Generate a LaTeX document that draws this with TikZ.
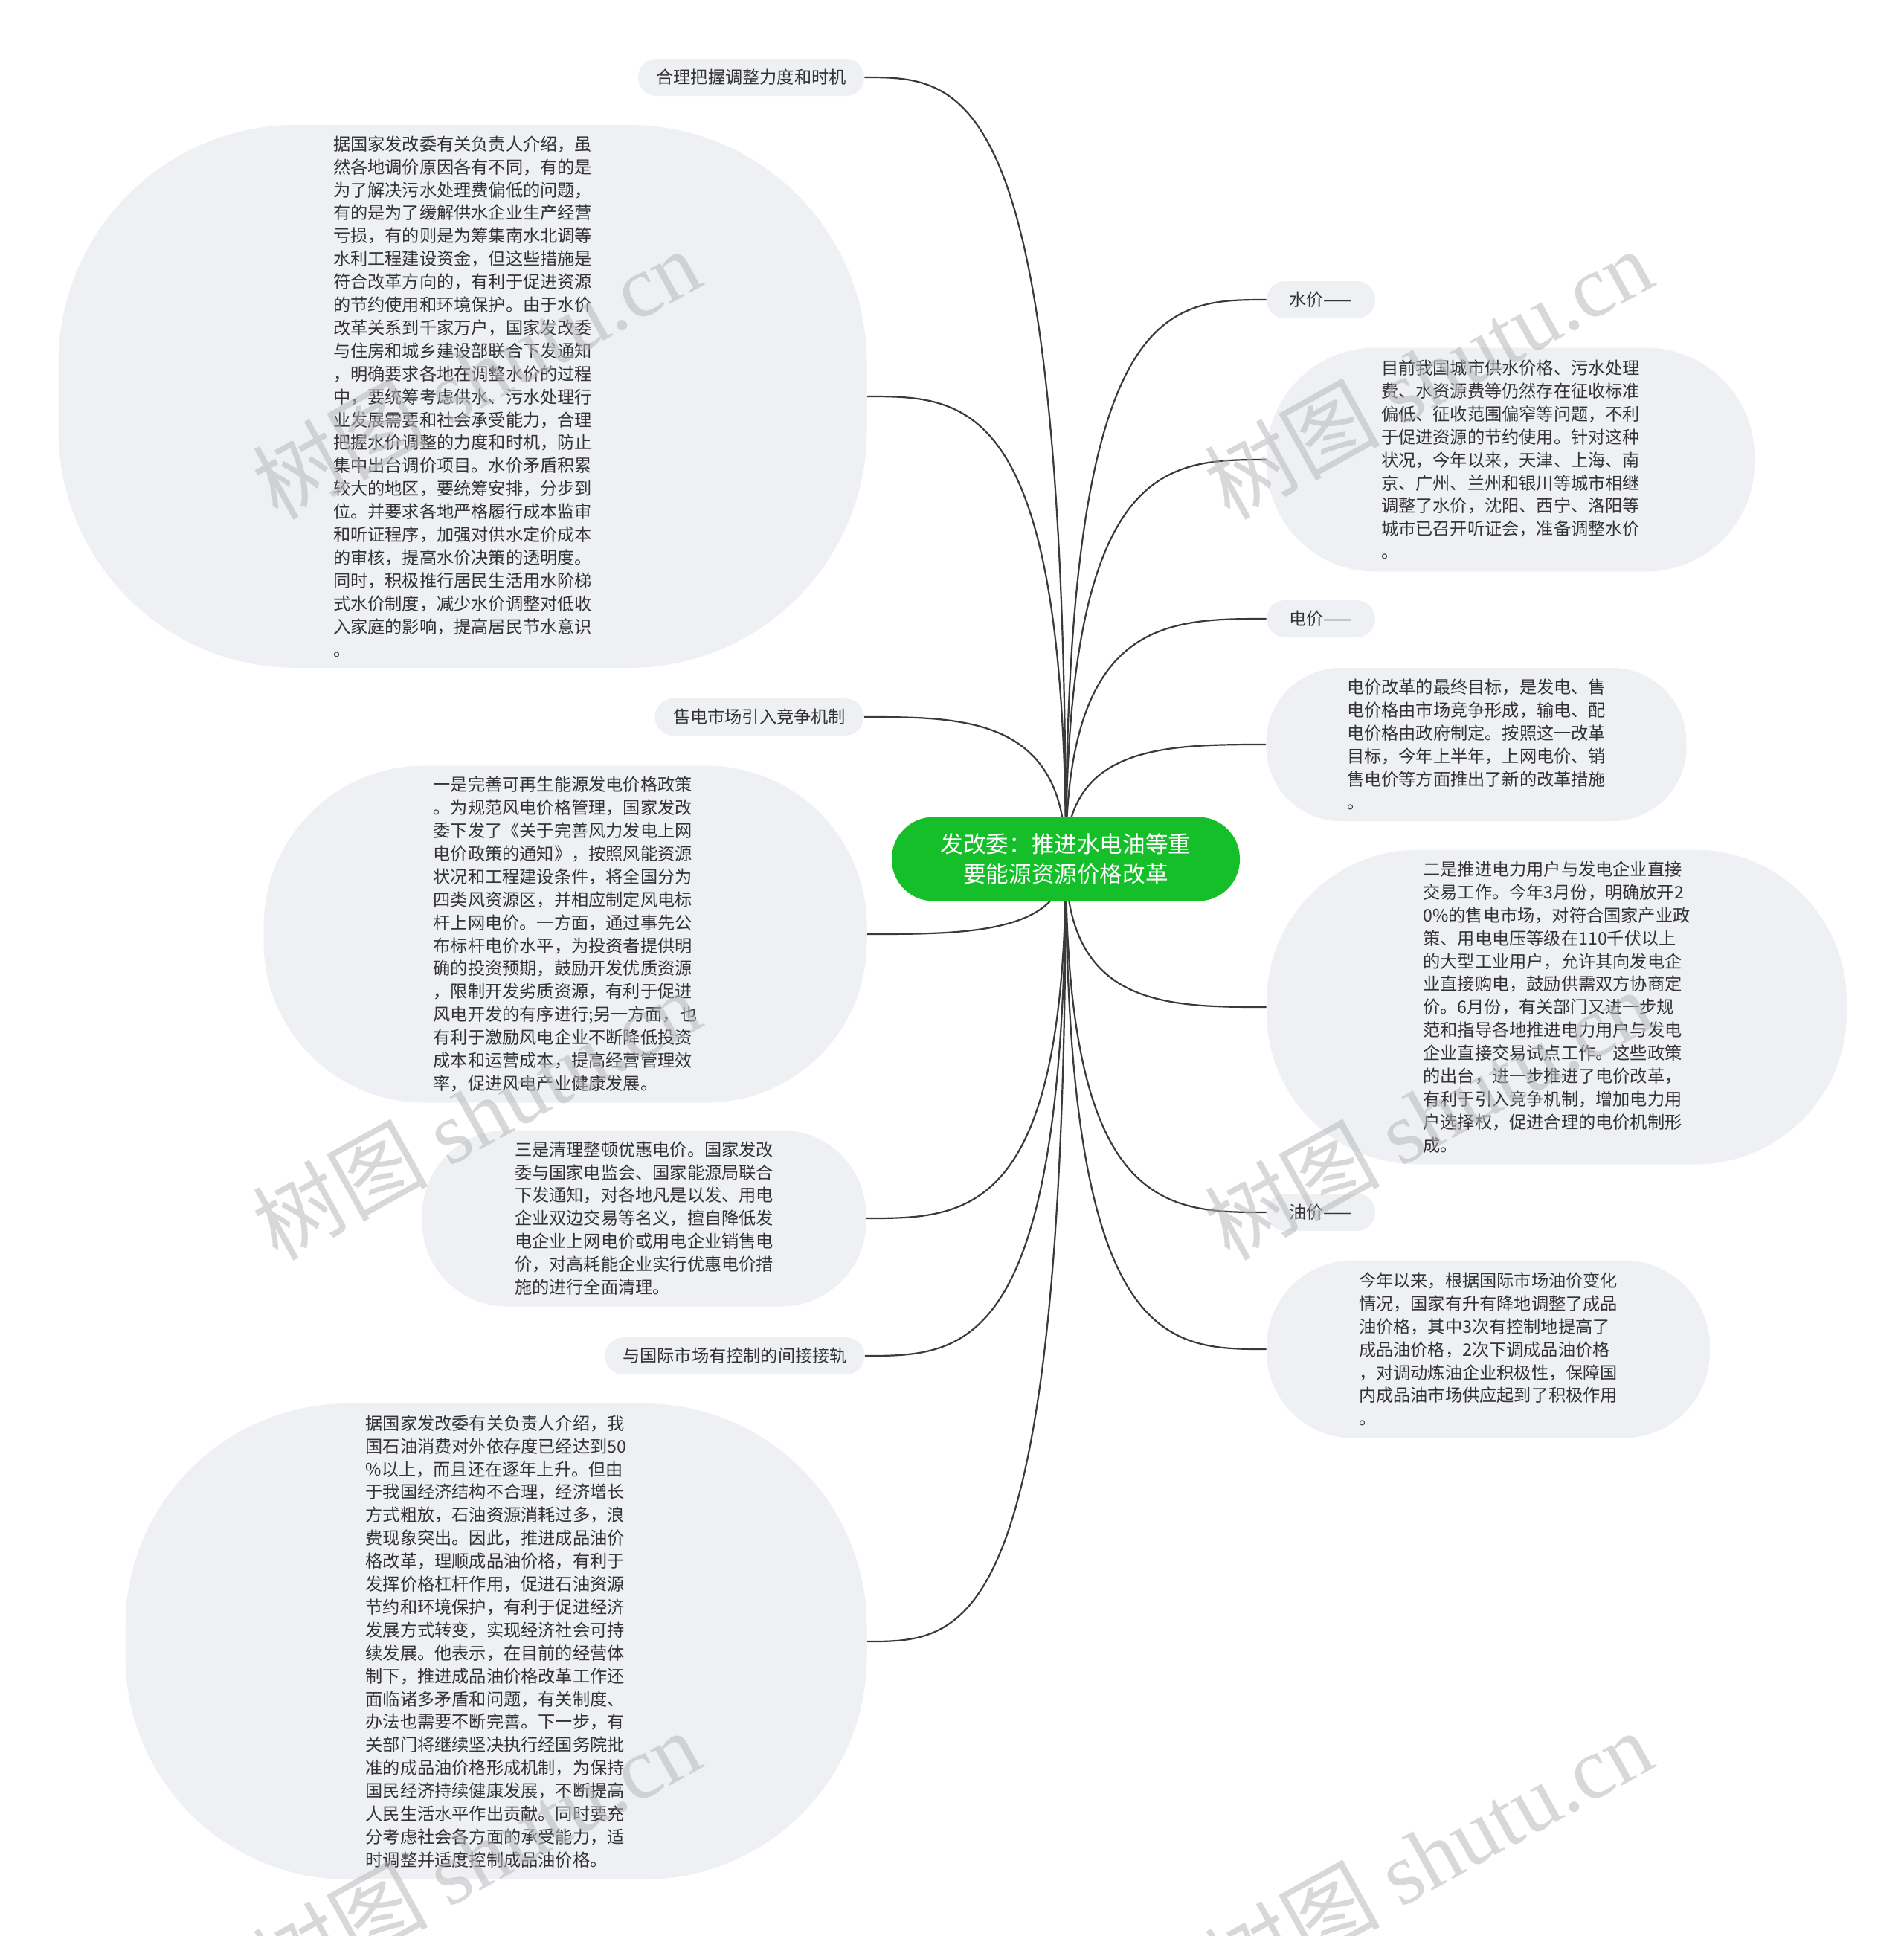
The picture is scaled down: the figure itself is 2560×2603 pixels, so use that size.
\documentclass[tikz,border=0pt]{standalone}
\usepackage{fontspec}
\setmainfont{Noto Sans CJK SC}
\newfontfamily\cjk{Noto Sans CJK SC}
\newfontfamily\wmlat{Liberation Serif}
\usetikzlibrary{calc}
\definecolor{bub}{HTML}{EEF0F3}
\definecolor{txt}{HTML}{333333}
\definecolor{cgreen}{HTML}{15BF2A}
\definecolor{conncol}{HTML}{3A3A3A}
\definecolor{wmcol}{HTML}{B8B8B8}
\pgfdeclarelayer{bglayer}
\pgfdeclarelayer{linelayer}
\pgfsetlayers{bglayer,linelayer,main}
\begin{document}
\begin{tikzpicture}[x=0.5pt,y=-0.5pt,
  bubble/.style={fill=bub, draw=none, inner sep=0pt, align=left, text=txt,
    font=\cjk\fontsize{11.6pt}{15.45pt}\selectfont},
  pill/.style={bubble, align=center, minimum height=25pt, rounded corners=12.5pt},
  conn/.style={draw=conncol, line width=1.1pt},
  wmark/.style={text=wmcol, opacity=0.55, rotate=29, inner sep=0pt,
    font=\cjk\fontsize{59pt}{64pt}\selectfont}]

\useasboundingbox (0,0) rectangle (2560,2603);
\begin{pgfonlayer}{bglayer}
\fill[white] (0,0) rectangle (2560,2603);
\end{pgfonlayer}

% central node
\node[fill=cgreen, draw=none, rounded corners=28pt, minimum width=234pt, minimum height=56.5pt,
  inner sep=0pt, align=center, text=white, font=\cjk\fontsize{15.3pt}{20pt}\selectfont]
  (c) at (1433,1155) {发改委：推进水电油等重\\要能源资源价格改革};

% left side
\node[pill, minimum width=152pt] (a1) at (1010,104) {合理把握调整力度和时机};
\node[bubble, minimum width=543.5pt, minimum height=365pt, rounded corners=160pt] (a2) at (622,533) {据国家发改委有关负责人介绍，虽\\然各地调价原因各有不同，有的是\\为了解决污水处理费偏低的问题，\\有的是为了缓解供水企业生产经营\\亏损，有的则是为筹集南水北调等\\水利工程建设资金，但这些措施是\\符合改革方向的，有利于促进资源\\的节约使用和环境保护。由于水价\\改革关系到千家万户，国家发改委\\与住房和城乡建设部联合下发通知\\，明确要求各地在调整水价的过程\\中，要统筹考虑供水、污水处理行\\业发展需要和社会承受能力，合理\\把握水价调整的力度和时机，防止\\集中出台调价项目。水价矛盾积累\\较大的地区，要统筹安排，分步到\\位。并要求各地严格履行成本监审\\和听证程序，加强对供水定价成本\\的审核，提高水价决策的透明度。\\同时，积极推行居民生活用水阶梯\\式水价制度，减少水价调整对低收\\入家庭的影响，提高居民节水意识\\。};
\node[pill, minimum width=140.5pt] (a3) at (1021,964) {售电市场引入竞争机制};
\node[bubble, minimum width=405.5pt, minimum height=226.5pt, rounded corners=108pt] (a4) at (760,1256) {一是完善可再生能源发电价格政策\\。为规范风电价格管理，国家发改\\委下发了《关于完善风力发电上网\\电价政策的通知》，按照风能资源\\状况和工程建设条件，将全国分为\\四类风资源区，并相应制定风电标\\杆上网电价。一方面，通过事先公\\布标杆电价水平，为投资者提供明\\确的投资预期，鼓励开发优质资源\\，限制开发劣质资源，有利于促进\\风电开发的有序进行;另一方面，也\\有利于激励风电企业不断降低投资\\成本和运营成本，提高经营管理效\\率，促进风电产业健康发展。};
\node[bubble, minimum width=298.5pt, minimum height=118.5pt, rounded corners=57pt] (a5) at (866,1638) {三是清理整顿优惠电价。国家发改\\委与国家电监会、国家能源局联合\\下发通知，对各地凡是以发、用电\\企业双边交易等名义，擅自降低发\\电企业上网电价或用电企业销售电\\价，对高耗能企业实行优惠电价措\\施的进行全面清理。};
\node[pill, minimum width=174.5pt] (a6) at (988,1823) {与国际市场有控制的间接接轨};
\node[bubble, minimum width=498.5pt, minimum height=320pt, rounded corners=150pt] (a7) at (667,2207) {据国家发改委有关负责人介绍，我\\国石油消费对外依存度已经达到50\\\%以上，而且还在逐年上升。但由\\于我国经济结构不合理，经济增长\\方式粗放，石油资源消耗过多，浪\\费现象突出。因此，推进成品油价\\格改革，理顺成品油价格，有利于\\发挥价格杠杆作用，促进石油资源\\节约和环境保护，有利于促进经济\\发展方式转变，实现经济社会可持\\续发展。他表示，在目前的经营体\\制下，推进成品油价格改革工作还\\面临诸多矛盾和问题，有关制度、\\办法也需要不断完善。下一步，有\\关部门将继续坚决执行经国务院批\\准的成品油价格形成机制，为保持\\国民经济持续健康发展，不断提高\\人民生活水平作出贡献。同时要充\\分考虑社会各方面的承受能力，适\\时调整并适度控制成品油价格。};

% right side
\node[pill, minimum width=73pt] (b1) at (1776,403) {水价——};
\node[bubble, minimum width=328pt, minimum height=150.5pt, rounded corners=73pt] (b2) at (2031,618) {目前我国城市供水价格、污水处理\\费、水资源费等仍然存在征收标准\\偏低、征收范围偏窄等问题，不利\\于促进资源的节约使用。针对这种\\状况，今年以来，天津、上海、南\\京、广州、兰州和银川等城市相继\\调整了水价，沈阳、西宁、洛阳等\\城市已召开听证会，准备调整水价\\。};
\node[pill, minimum width=73pt] (b3) at (1776,832) {电价——};
\node[bubble, minimum width=282.5pt, minimum height=103pt, rounded corners=50pt] (b4) at (1985,1001) {电价改革的最终目标，是发电、售\\电价格由市场竞争形成，输电、配\\电价格由政府制定。按照这一改革\\目标，今年上半年，上网电价、销\\售电价等方面推出了新的改革措施\\。};
\node[bubble, minimum width=390pt, minimum height=211.5pt, rounded corners=102pt] (b5) at (2093,1354) {二是推进电力用户与发电企业直接\\交易工作。今年3月份，明确放开2\\0\%的售电市场，对符合国家产业政\\策、用电电压等级在110千伏以上\\的大型工业用户，允许其向发电企\\业直接购电，鼓励供需双方协商定\\价。6月份，有关部门又进一步规\\范和指导各地推进电力用户与发电\\企业直接交易试点工作。这些政策\\的出台，进一步推进了电价改革，\\有利于引入竞争机制，增加电力用\\户选择权，促进合理的电价机制形\\成。};
\node[pill, minimum width=73pt] (b6) at (1776,1630) {油价——};
\node[bubble, minimum width=298pt, minimum height=119.5pt, rounded corners=58pt] (b7) at (2001,1814) {今年以来，根据国际市场油价变化\\情况，国家有升有降地调整了成品\\油价格，其中3次有控制地提高了\\成品油价格，2次下调成品油价格\\，对调动炼油企业积极性，保障国\\内成品油市场供应起到了积极作用\\。};

% connectors
\begin{pgfonlayer}{linelayer}
\foreach \n in {a1,a2,a3,a4,a5,a6,a7}
  \draw[conn] (c.center) .. controls (c.center |- \n.east) and ($(c.center |- \n.east)!0.5!(\n.east)$) .. (\n.east);
\foreach \n in {b1,b2,b3,b4,b5,b6,b7}
  \draw[conn] (c.center) .. controls (c.center |- \n.west) and ($(c.center |- \n.west)!0.5!(\n.west)$) .. (\n.west);
\end{pgfonlayer}

% watermarks
\node[wmark] (w1) at (640,502) {树图 {\wmlat shutu.cn}};
\node[wmark] (w2) at (1920,502) {树图 {\wmlat shutu.cn}};
\node[wmark] (w3) at (640,1498) {树图 {\wmlat shutu.cn}};
\node[wmark] (w4) at (1920,1498) {树图 {\wmlat shutu.cn}};
\node[wmark] (w5) at (640,2494) {树图 {\wmlat shutu.cn}};
\node[wmark] (w6) at (1920,2494) {树图 {\wmlat shutu.cn}};
\end{tikzpicture}
\end{document}
